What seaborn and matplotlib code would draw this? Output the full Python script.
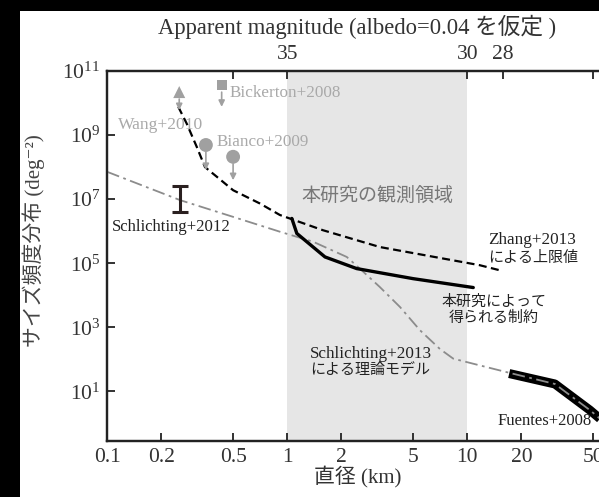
import numpy as np
import pandas as pd
import matplotlib
matplotlib.use("Agg")
import matplotlib.pyplot as plt
from matplotlib.patches import Rectangle
import seaborn as sns

# ---------------- data ----------------
# Zhang+2013 upper limit (dashed, starts with Wang+2010 segment)
zhang_d = [0.248, 0.276, 0.314, 0.349, 0.406, 0.5, 0.705, 0.91, 1.58, 3.27, 11.7, 15.2]
zhang_n = [7.6e9, 2.3e9, 4.3e8, 1.0e8, 5.0e7, 1.9e7, 7.3e6, 3.2e6, 1.07e6, 3.2e5, 8.7e4, 6.0e4]

# constraint from this work (solid)
this_d = [1.06, 1.13, 1.62, 2.43, 5.0, 10.8]
this_n = [2.5e6, 8.5e5, 1.57e5, 6.8e4, 3.3e4, 1.74e4]

# Schlichting+2013 theoretical model (dash-dot)
model_d = [0.1, 0.254, 0.5, 0.911, 1.39, 2.14, 2.53, 3.27, 4.23, 5.46, 7.05, 8.36, 11.7, 17.1, 30.7, 48, 60]
model_n = [7.1e7, 9.3e6, 2.8e6, 9.6e5, 4.7e5, 1.57e5, 6.8e4, 1.8e4, 4.3e3, 8.1e2, 2.1e2, 1.05e2, 65, 38, 17, 2.6, 0.9]

# Fuentes+2008 (thick band)
fuentes_d = [17.1, 30.7, 48, 60]
fuentes_n = [36, 17, 2.6, 0.9]

# Schlichting+2012 measurement
sch12_d = [0.254]
sch12_n = [1.0e7]
sch12_lo = [4.0e6]
sch12_hi = [2.6e7]

# upper limits (marker value and arrow tip)
ul_names = ["Wang+2010", "Bickerton+2008", "Bianco+2009", "Bianco+2009"]
ul_d = [0.251, 0.432, 0.353, 0.5]
ul_n = [2.2e10, 3.6e10, 4.9e8, 2.1e8]
ul_tip = [6.0e9, 7.6e9, 8.1e7, 3.9e7]
ul_marker = ["^", "s", "o", "o"]
ul_size = [75, 55, 100, 100]

# observed region of this work
obs_range = [1, 10]

# axis ticks
x_ticks = [0.1, 0.2, 0.5, 1, 2, 5, 10, 20, 50]
x_ticklabels = ["0.1", "0.2", "0.5", "1", "2", "5", "10", "20", "50"]
y_ticks = [1e1, 1e3, 1e5, 1e7, 1e9, 1e11]
y_ticklabels = [r"$\mathregular{10^{1}}$", r"$\mathregular{10^{3}}$", r"$\mathregular{10^{5}}$",
                r"$\mathregular{10^{7}}$", r"$\mathregular{10^{9}}$", r"$\mathregular{10^{11}}$"]
mag_ticks = [0.5, 1, 10, 15.85, 50]
mag_ticklabels = ["", "35", "30", "28", ""]

# ---------------- style ----------------
sns.set_style("ticks")
plt.rcParams["font.family"] = ["Liberation Serif", "Noto Sans CJK JP", "DejaVu Serif"]
plt.rcParams["mathtext.fontset"] = "custom"
plt.rcParams["mathtext.rm"] = "Liberation Serif"
plt.rcParams["axes.unicode_minus"] = False

TXT = "#333333"
DARK = "#222222"
GRAY_TXT = "#a9a9a9"
GRAY_MK = "#a0a0a0"
MODEL_C = "#8c8c8c"
LAT = 12.3   # latin annotation size
CJK = 10.8   # japanese annotation size

W, H = 599, 497
fig = plt.figure(figsize=(W / 100, H / 100), dpi=100, facecolor="black")
fig.add_artist(Rectangle((20 / W, 0), 1, (H - 11) / H, transform=fig.transFigure,
                         facecolor="white", edgecolor="none", zorder=-10))

left, right, top, bottom = 107.3, 607.3, 71.0, 440.7
ax = fig.add_axes([left / W, 1 - bottom / H, (right - left) / W, (bottom - top) / H])
ax.set_xscale("log")
ax.set_yscale("log")
ax.set_xlim(0.1, 60)
ax.set_ylim(10 ** -0.54, 1e11)

ax.axvspan(obs_range[0], obs_range[1], color="#e6e6e6", lw=0, zorder=0)

df_model = pd.DataFrame({"d": model_d, "n": model_n})
df_zhang = pd.DataFrame({"d": zhang_d, "n": zhang_n})
df_this = pd.DataFrame({"d": this_d, "n": this_n})
df_fu = pd.DataFrame({"d": fuentes_d, "n": fuentes_n})

sns.lineplot(data=df_fu, x="d", y="n", ax=ax, color="black", lw=6.5,
             solid_capstyle="butt", zorder=3)
sns.lineplot(data=df_model, x="d", y="n", ax=ax, color=MODEL_C, lw=1.3,
             linestyle=(0, (7, 2.5, 1.5, 2.5)), zorder=4)
sns.lineplot(data=df_zhang, x="d", y="n", ax=ax, color="black", lw=1.6,
             linestyle=(0, (3.6, 2.0)), zorder=5)
sns.lineplot(data=df_this, x="d", y="n", ax=ax, color="black", lw=2.4,
             solid_joinstyle="miter", zorder=5)

# upper limit markers with arrows
for d, n, mk, sz, tip in zip(ul_d, ul_n, ul_marker, ul_size, ul_tip):
    sns.scatterplot(x=[d], y=[n], marker=mk, s=sz, color=GRAY_MK, ax=ax,
                    edgecolor="none", zorder=6)
    ax.annotate("", xy=(d, tip), xytext=(d, n),
                arrowprops=dict(arrowstyle="-|>", color=GRAY_MK, lw=1.2,
                                mutation_scale=9, shrinkA=5, shrinkB=0),
                zorder=6)

# Schlichting+2012 error bar
ax.errorbar(sch12_d, sch12_n,
            yerr=[np.array(sch12_n) - np.array(sch12_lo), np.array(sch12_hi) - np.array(sch12_n)],
            fmt="none", ecolor="#2a2020", elinewidth=2.2, capsize=6, capthick=2.2, zorder=6)

# annotations
ax.text(0.48, 2.05e10, "Bickerton+2008", color=GRAY_TXT, fontsize=LAT, va="center", ha="left")
ax.text(0.115, 2.06e9, "Wang+2010", color=GRAY_TXT, fontsize=12.6, va="center", ha="left")
ax.text(0.406, 6.2e8, "Bianco+2009", color=GRAY_TXT, fontsize=LAT, va="center", ha="left")
ax.text(0.106, 1.35e6, "Schlichting+2012", color=DARK, fontsize=12.1, va="center", ha="left")
ax.text(3.17, 1.17e7, "本研究の観測領域", color="#777777", fontsize=13.7, va="center", ha="center")
ax.text(13.0, 5.4e5, "Zhang+2013", color=DARK, fontsize=LAT, va="center", ha="left")
ax.text(13.0, 1.45e5, "による上限値", color=DARK, fontsize=CJK, va="center", ha="left")
ax.text(14.1, 6.2e3, "本研究によって", color=DARK, fontsize=CJK, va="center", ha="center")
ax.text(14.1, 2.0e3, "得られる制約", color=DARK, fontsize=CJK, va="center", ha="center")
ax.text(1.34, 143, "Schlichting+2013", color=DARK, fontsize=LAT, va="center", ha="left")
ax.text(1.34, 46, "による理論モデル", color=DARK, fontsize=CJK, va="center", ha="left")
ax.text(14.7, 1.15, "Fuentes+2008", color=DARK, fontsize=12.0, va="center", ha="left")

# axes styling
ax.set_xticks(x_ticks)
ax.set_xticklabels(x_ticklabels)
ax.set_yticks(y_ticks)
ax.set_yticklabels(y_ticklabels)
ax.minorticks_off()
ax.tick_params(axis="both", direction="in", length=6, width=1.3, colors=DARK,
               labelcolor=TXT, labelsize=15.5, top=False, right=False)
ax.tick_params(axis="x", pad=5)
ax.tick_params(axis="y", pad=5)
for s in ax.spines.values():
    s.set_linewidth(1.6)
    s.set_color(DARK)

ax.set_xlabel("直径 (km)", fontsize=15, color=TXT)
ax.xaxis.set_label_coords(0.5, -0.066)
ax.set_ylabel("サイズ頻度分布 (deg⁻²)", fontsize=15, color="#444444")
ax.yaxis.set_label_coords(-0.125, 0.54)

ax2 = ax.twiny()
ax2.set_xscale("log")
ax2.set_xlim(ax.get_xlim())
ax2.set_xticks(mag_ticks)
ax2.set_xticklabels(mag_ticklabels)
ax2.minorticks_off()
ax2.tick_params(axis="x", direction="in", length=6, width=1.3, colors=DARK,
                labelcolor=TXT, labelsize=15.5, pad=5)
for s in ax2.spines.values():
    s.set_linewidth(1.6)
    s.set_color(DARK)
ax2.set_xlabel("Apparent magnitude (albedo=0.04 を仮定 )", fontsize=16.3, color=TXT)
ax2.xaxis.set_label_coords(0.5, 1.1)

fig.savefig("out.png", dpi=100, facecolor=fig.get_facecolor())
